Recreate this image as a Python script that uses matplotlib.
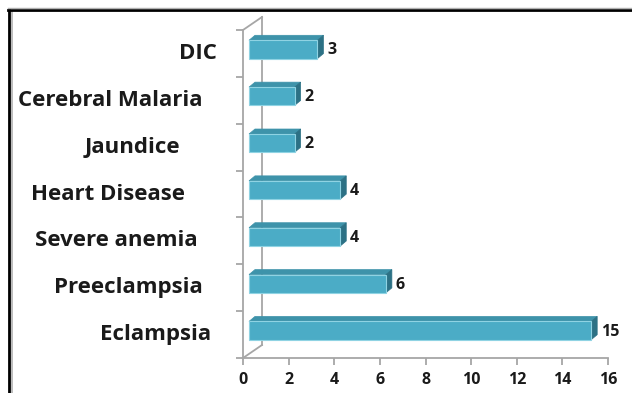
import numpy as np
import matplotlib
matplotlib.use("Agg")
import matplotlib.pyplot as plt
from matplotlib.patches import Polygon
from matplotlib.lines import Line2D
from matplotlib.transforms import IdentityTransform, offset_copy

# data (bottom to top)
causes = ["Eclampsia", "Preeclampsia", "Severe anemia", "Heart Disease",
          "Jaundice", "Cerebral Malaria", "DIC"]
counts = [15, 6, 4, 4, 2, 2, 3]
x_ticks = [0, 2, 4, 6, 8, 10, 12, 14, 16]

# style
label_gap_px = [32, 40, 45, 58, 63, 41, 26]   # space between label end and axis
front_col = "#4bacc6"
top_col = "#3e93aa"
side_col = "#2c7185"
edge_col = "#8fd3e3"
axis_col = "#a6a6a6"
font = "Open Sans"

W, H, DPI = 632, 393, 100
fig = plt.figure(figsize=(W / DPI, H / DPI), dpi=DPI)
ax = fig.add_axes([243 / W, 1 - 358 / H, (608 - 243) / W, (358 - 30) / H])
ax.set_xlim(0, 16)
ax.set_ylim(0, len(causes))
ax.patch.set_visible(False)
for s in ["top", "right"]:
    ax.spines[s].set_visible(False)
for s in ["left", "bottom"]:
    ax.spines[s].set_color(axis_col)
    ax.spines[s].set_linewidth(1.3)

ax.set_xticks(x_ticks)
ax.set_xticklabels([str(t) for t in x_ticks], fontsize=11.5, fontweight="bold",
                   family=font, color="#1a1a1a")
ax.set_yticks(np.arange(len(causes) + 1))
ax.set_yticklabels([])
ax.tick_params(axis="both", color=axis_col, width=1.3, length=5, direction="out")
ax.tick_params(axis="x", pad=5)


def px(xd, yd, dx=0, dy=0):
    p = ax.transData.transform((xd, yd))
    return (p[0] + dx, p[1] + dy)


# back wall lines (depth offset)
wx, wy = 19, 13
x0b, y0b = px(0, 0)
x0t, y0t = px(0, len(causes))
wall = [[(x0b, y0b), (x0b + wx, y0b + wy)],
        [(x0b + wx, y0b + wy), (x0b + wx, y0t + wy)],
        [(x0t, y0t), (x0t + wx, y0t + wy)]]
for seg in wall:
    (a, b), (c, d) = seg
    fig.add_artist(Line2D([a, c], [b, d], transform=IdentityTransform(),
                          color=axis_col, lw=1.3, zorder=1))

# 3D bars
bh = 0.39
ox, oy = 6, 4      # bar position inside depth
dx, dy = 6, 5      # bar depth
for i, (c, v) in enumerate(zip(causes, counts)):
    yc = i + 0.5
    bl = px(0, yc - bh / 2, ox, oy)
    br = px(v, yc - bh / 2, ox, oy)
    tl = px(0, yc + bh / 2, ox, oy)
    tr = px(v, yc + bh / 2, ox, oy)
    top = [tl, tr, (tr[0] + dx, tr[1] + dy), (tl[0] + dx, tl[1] + dy)]
    side = [br, tr, (tr[0] + dx, tr[1] + dy), (br[0] + dx, br[1] + dy)]
    front = [bl, br, tr, tl]
    for pts, col in [(top, top_col), (side, side_col)]:
        fig.add_artist(Polygon(pts, closed=True, transform=IdentityTransform(),
                               facecolor=col, edgecolor=col, lw=0.5, zorder=3))
    fig.add_artist(Polygon(front, closed=True, transform=IdentityTransform(),
                           facecolor=front_col, edgecolor=edge_col, lw=0.8, zorder=4))
    # value label
    fig.text((br[0] + 10) / W, ((br[1] + tr[1]) / 2 - 1) / H, str(v),
             ha="left", va="center", fontsize=11.5, fontweight="bold",
             family=font, color="#1a1a1a")
    # category label
    tr_lbl = offset_copy(ax.get_yaxis_transform(), fig=fig,
                         x=-label_gap_px[i] * 72 / DPI, y=0, units="points")
    ax.text(0, yc, c, transform=tr_lbl, ha="right", va="center",
            fontsize=16, fontweight="bold", family=font, color="#1a1a1a")

# outer frame (left and top edges of the pasted chart)
fig.add_artist(Line2D([9 / W, 9 / W], [0, 1 - 9 / H], color="black", lw=2,
                      transform=fig.transFigure))
fig.add_artist(Line2D([11.5 / W, 11.5 / W], [0, 1 - 11 / H], color="#b0b0b0", lw=1.2,
                      transform=fig.transFigure))
fig.add_artist(Line2D([8 / W, 1], [1 - 9.5 / H, 1 - 9.5 / H], color="black", lw=2,
                      transform=fig.transFigure))
fig.add_artist(Line2D([8 / W, 1], [1 - 7.5 / H, 1 - 7.5 / H], color="#b0b0b0", lw=1,
                      transform=fig.transFigure))

fig.savefig("out.png", dpi=DPI)
